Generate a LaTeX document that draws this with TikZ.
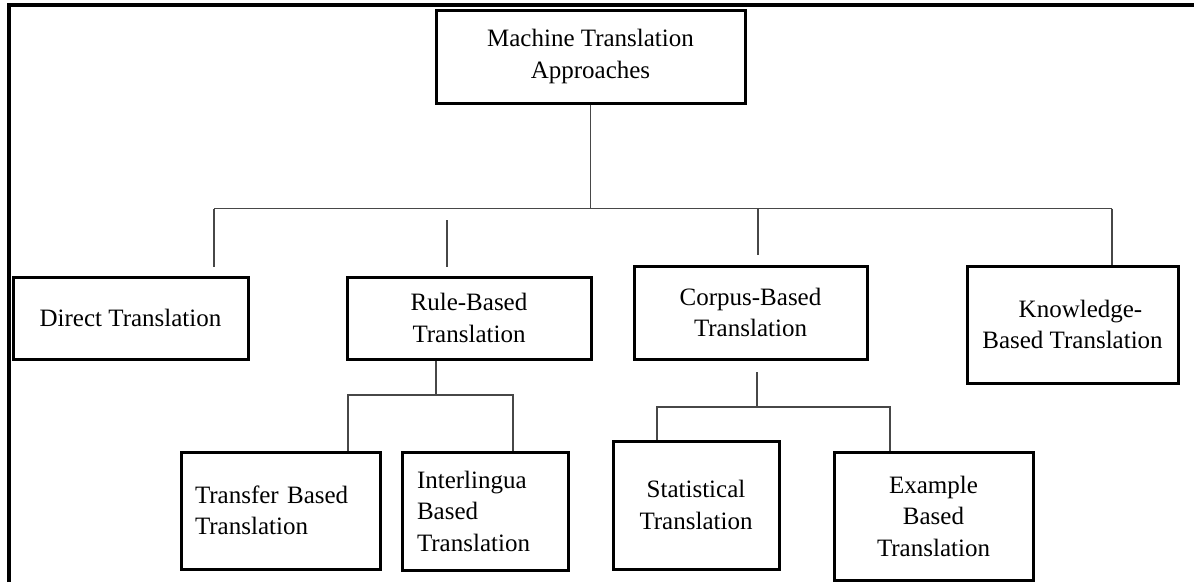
\documentclass[tikz,border=0pt]{standalone}
\usepackage{fontspec}
\setmainfont{Liberation Serif}
\begin{document}
\begin{tikzpicture}[x=1pt,y=-1pt,
  box/.style={draw=black, line width=3pt, rectangle, inner sep=0pt,
    font=\fontsize{25}{31.5}\selectfont, align=center},
  conn/.style={draw=black!72, line width=1.6pt},
  frameline/.style={draw=black, line width=3.4pt}]
\useasboundingbox (0,0) rectangle (1194,582);
% frame
\draw[frameline] (9,582) -- (9,5) -- (1194,5);
% boxes
\node[box, minimum width=309pt, minimum height=93pt] (top) at (590.5,56.5) {Machine Translation\\Approaches};
\node[box, minimum width=235pt, minimum height=82pt] (direct) at (130.5,318) {Direct Translation};
\node[box, minimum width=244pt, minimum height=82pt] (rule) at (469,318) {Rule-Based\\Translation};
\node[box, minimum width=233pt, minimum height=93pt] (corpus) at (750.5,312.5) {Corpus-Based\\Translation};
\node[box, minimum width=211pt, minimum height=117pt] (know) at (1072.5,324.5) {\hspace*{16pt}Knowledge-\\Based Translation};
\node[box, minimum width=199pt, minimum height=117pt, text width=171pt, align=left] (transfer) at (280.5,510.5) {Transfer Based\\Translation};
\node[box, minimum width=166pt, minimum height=118pt, text width=136pt, align=left] (inter) at (485,511) {Interlingua\\Based\\Translation};
\node[box, minimum width=166pt, minimum height=128pt] (stat) at (696,505) {Statistical\\Translation};
\node[box, minimum width=199pt, minimum height=128pt] (example) at (933.5,516) {Example\\Based\\Translation};
% top level connectors
\coordinate (busL) at (214,208.5);
\coordinate (busR) at (1112,208.5);
\coordinate (dEnd) at (214,267);
\coordinate (rA) at (447,220);
\coordinate (rB) at (447,267);
\coordinate (cA) at (758,208.5);
\coordinate (cB) at (758,255);
\draw[conn] (top.south) -- (top.south |- busL);
\draw[conn] (busL) -- (busR);
\draw[conn] (busL) -- (dEnd);
\draw[conn] (rA) -- (rB);
\draw[conn] (cA) -- (cB);
\draw[conn] (busR) -- (know.north -| busR);
% rule-based subtree
\coordinate (rbus) at (436,395);
\coordinate (rbL) at (348,395);
\coordinate (rbR) at (513,395);
\draw[conn] (rule.south -| rbus) -- (rbus);
\draw[conn] (transfer.north -| rbL) -- (rbL) -- (rbR) -- (inter.north -| rbR);
% corpus-based subtree
\coordinate (cv) at (757,372);
\coordinate (cbus) at (757,407);
\coordinate (cbL) at (657,407);
\coordinate (cbR) at (890,407);
\draw[conn] (cv) -- (cbus);
\draw[conn] (stat.north -| cbL) -- (cbL) -- (cbR) -- (example.north -| cbR);
\end{tikzpicture}
\end{document}
